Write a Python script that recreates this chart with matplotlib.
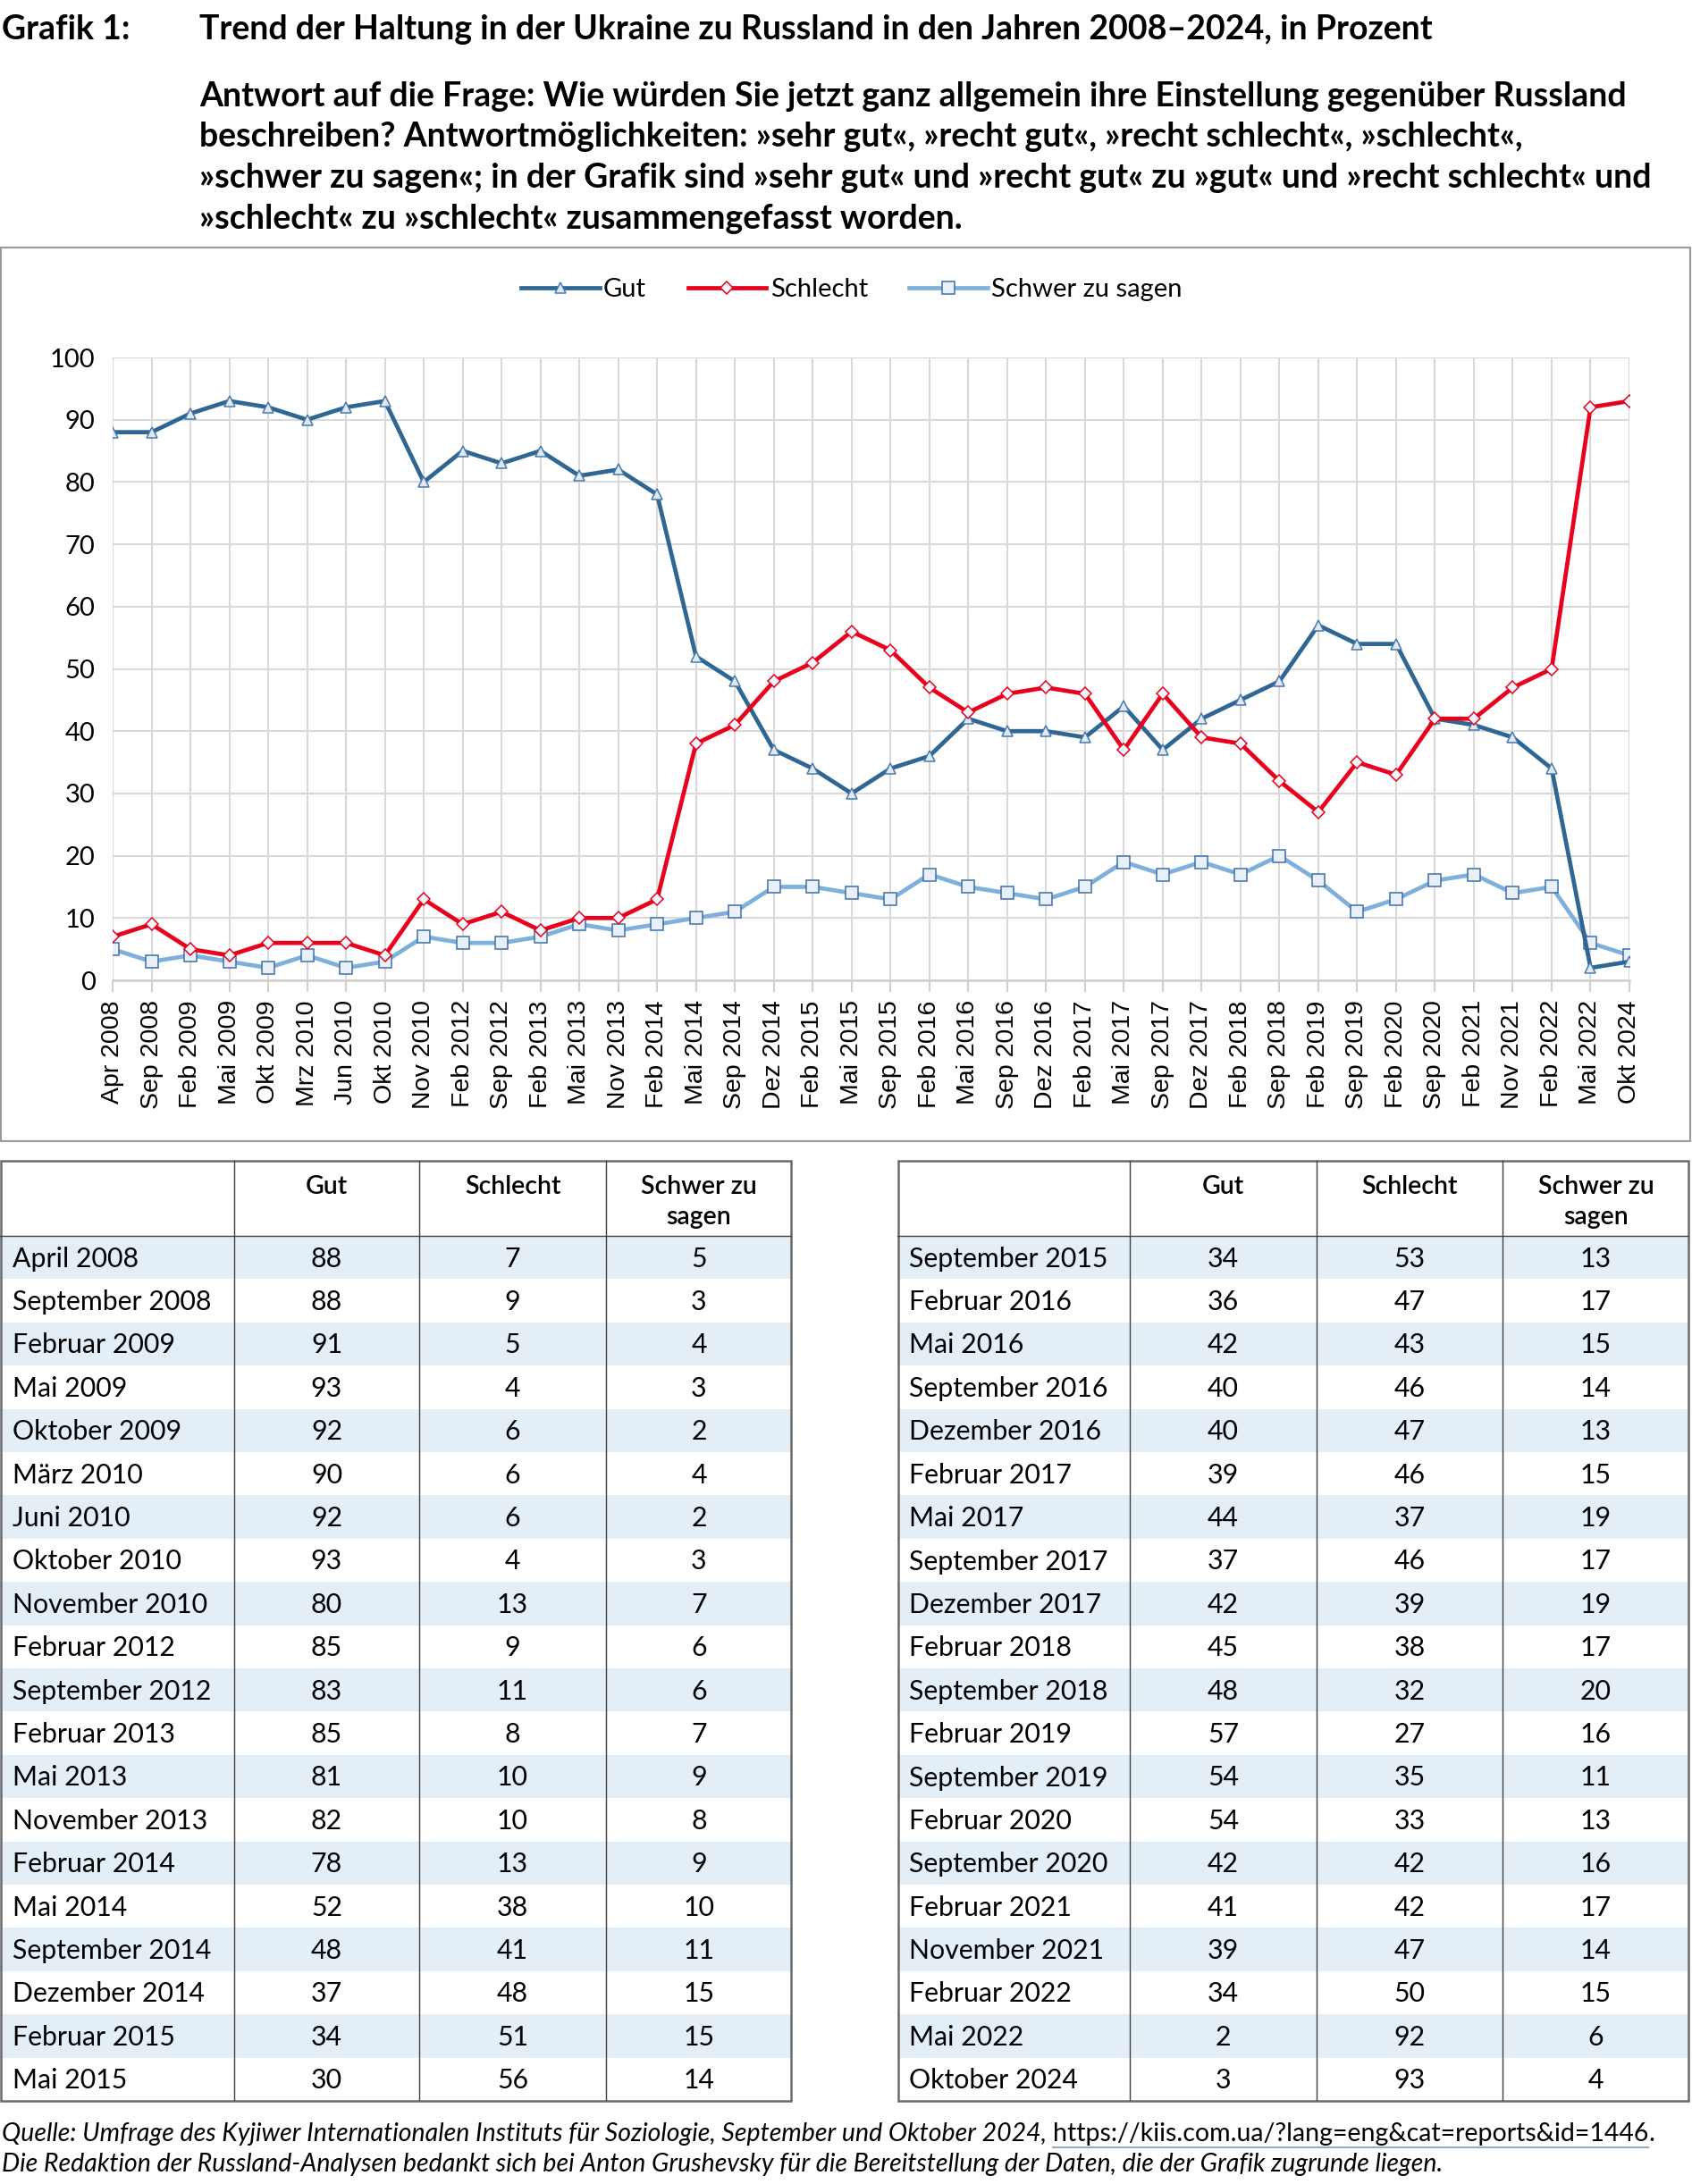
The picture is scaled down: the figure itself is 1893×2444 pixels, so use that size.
import numpy as np
import matplotlib.pyplot as plt
from matplotlib.patches import Rectangle
from matplotlib.lines import Line2D

# --- Data ---
months_short = ['Apr 2008', 'Sep 2008', 'Feb 2009', 'Mai 2009', 'Okt 2009', 'Mrz 2010',
                'Jun 2010', 'Okt 2010', 'Nov 2010', 'Feb 2012', 'Sep 2012', 'Feb 2013',
                'Mai 2013', 'Nov 2013', 'Feb 2014', 'Mai 2014', 'Sep 2014', 'Dez 2014',
                'Feb 2015', 'Mai 2015', 'Sep 2015', 'Feb 2016', 'Mai 2016', 'Sep 2016',
                'Dez 2016', 'Feb 2017', 'Mai 2017', 'Sep 2017', 'Dez 2017', 'Feb 2018',
                'Sep 2018', 'Feb 2019', 'Sep 2019', 'Feb 2020', 'Sep 2020', 'Feb 2021',
                'Nov 2021', 'Feb 2022', 'Mai 2022', 'Okt 2024']
months_long = ['April 2008', 'September 2008', 'Februar 2009', 'Mai 2009', 'Oktober 2009',
               'März 2010', 'Juni 2010', 'Oktober 2010', 'November 2010', 'Februar 2012',
               'September 2012', 'Februar 2013', 'Mai 2013', 'November 2013', 'Februar 2014',
               'Mai 2014', 'September 2014', 'Dezember 2014', 'Februar 2015', 'Mai 2015',
               'September 2015', 'Februar 2016', 'Mai 2016', 'September 2016', 'Dezember 2016',
               'Februar 2017', 'Mai 2017', 'September 2017', 'Dezember 2017', 'Februar 2018',
               'September 2018', 'Februar 2019', 'September 2019', 'Februar 2020',
               'September 2020', 'Februar 2021', 'November 2021', 'Februar 2022', 'Mai 2022',
               'Oktober 2024']
gut = [88, 88, 91, 93, 92, 90, 92, 93, 80, 85, 83, 85, 81, 82, 78, 52, 48, 37, 34, 30,
       34, 36, 42, 40, 40, 39, 44, 37, 42, 45, 48, 57, 54, 54, 42, 41, 39, 34, 2, 3]
schlecht = [7, 9, 5, 4, 6, 6, 6, 4, 13, 9, 11, 8, 10, 10, 13, 38, 41, 48, 51, 56,
            53, 47, 43, 46, 47, 46, 37, 46, 39, 38, 32, 27, 35, 33, 42, 42, 47, 50, 92, 93]
schwer = [5, 3, 4, 3, 2, 4, 2, 3, 7, 6, 6, 7, 9, 8, 9, 10, 11, 15, 15, 14,
          13, 17, 15, 14, 13, 15, 19, 17, 19, 17, 20, 16, 11, 13, 16, 17, 14, 15, 6, 4]
series_names = ['Gut', 'Schlecht', 'Schwer zu sagen']

# --- Layout helpers (pixel coords, origin top-left) ---
W, H = 1893, 2444
def fx(x):
    return x / W
def fy(y):
    return 1 - y / H

plt.rcParams['font.family'] = ['Lato', 'DejaVu Sans']

fig = plt.figure(figsize=(W / 100, H / 100), dpi=100)

# --- Header ---
fig.text(fx(2), fy(33), 'Grafik 1:', fontsize=27, fontweight='bold', va='center', ha='left')
fig.text(fx(223), fy(33), 'Trend der Haltung in der Ukraine zu Russland in den Jahren 2008–2024, in Prozent',
         fontsize=27, fontweight='bold', va='center', ha='left')
sub_lines = ['Antwort auf die Frage: Wie würden Sie jetzt ganz allgemein ihre Einstellung gegenüber Russland',
             'beschreiben? Antwortmöglichkeiten: »sehr gut«, »recht gut«, »recht schlecht«, »schlecht«,',
             '»schwer zu sagen«; in der Grafik sind »sehr gut« und »recht gut« zu »gut« und »recht schlecht« und',
             '»schlecht« zu »schlecht« zusammengefasst worden.']
for i, line in enumerate(sub_lines):
    fig.text(fx(223), fy(108 + i * 45.5), line, fontsize=27, fontweight='bold', va='center', ha='left')

# --- Chart frame ---
fig.patches.append(Rectangle((fx(1), fy(1277)), fx(1890), (1277 - 277) / H,
                             transform=fig.transFigure, fill=False, edgecolor='#9a9a9a', lw=1.5))

ax = fig.add_axes([fx(126), fy(1097), fx(1823 - 126), (1097 - 400) / H])
x = np.arange(len(months_short))
ax.plot(x, gut, color='#2f6694', lw=3.4, marker='^', ms=9, mfc='#dfe8f3', mec='#4a7aab', mew=1.1,
        label=series_names[0], zorder=4)
ax.plot(x, schlecht, color='#e8001c', lw=3.4, marker='D', ms=7.5, mfc='#f4f6fb', mec='#e8001c', mew=1.1,
        label=series_names[1], zorder=5)
ax.plot(x, schwer, color='#7fb0db', lw=3.4, marker='s', ms=9.5, mfc='#e9f0fa', mec='#3f6fa6', mew=1.1,
        label=series_names[2], zorder=3)
ax.set_xlim(0, len(months_short) - 1)
ax.set_ylim(0, 100)
ax.set_yticks(range(0, 101, 10))
ax.set_xticks(x)
ax.set_xticklabels(months_short, rotation=90, fontsize=20.5, family='Liberation Sans')
ax.tick_params(axis='y', length=0, labelsize=21, pad=14)
ax.tick_params(axis='x', length=9, width=1.5, color='#d0d0d0', pad=7)
ax.grid(True, color='#d9d9d9', lw=1.5)
ax.set_axisbelow(True)
for side in ['left', 'right', 'top']:
    ax.spines[side].set_visible(False)
ax.spines['bottom'].set_color('#d0d0d0')
ax.spines['bottom'].set_linewidth(1.8)
ax.spines['bottom'].set_zorder(2)

fig.legend(loc='center', bbox_to_anchor=(fx(953), fy(324)), ncol=3, frameon=False, fontsize=21,
           handlelength=3.0, handletextpad=0.15, columnspacing=1.6)

# --- Tables ---
row_h = 48.4
y_top, y_head, y_bot = 1299, 1383, 2351
fill = '#e3eef7'

def draw_table(edges, labels, g, s, w, label_x):
    x0, x1 = edges[0], edges[-1]
    t = fig.add_axes([fx(x0), fy(y_bot), fx(x1 - x0), (y_bot - y_top) / H])
    t.set_xlim(x0, x1)
    t.set_ylim(y_bot, y_top)
    t.axis('off')
    for i in range(len(labels)):
        yc = y_head + (i + 0.5) * row_h + 1.5
        if i % 2 == 0:
            t.add_patch(Rectangle((x0, y_head + i * row_h), x1 - x0, row_h, color=fill, lw=0))
        t.text(label_x, yc, labels[i], fontsize=21.8, ha='left', va='center')
        for j, vals in enumerate([g, s, w]):
            t.text((edges[j + 1] + edges[j + 2]) / 2, yc, str(vals[i]), fontsize=21.8,
                   ha='center', va='center')
    # header
    hy = 1328
    t.text((edges[1] + edges[2]) / 2, hy, 'Gut', fontsize=20.5, fontweight='semibold', ha='center', va='center')
    t.text((edges[2] + edges[3]) / 2, hy, 'Schlecht', fontsize=20.5, fontweight='semibold', ha='center', va='center')
    t.text((edges[3] + edges[4]) / 2, hy, 'Schwer zu', fontsize=20.5, fontweight='semibold', ha='center', va='center')
    t.text((edges[3] + edges[4]) / 2, hy + 34, 'sagen', fontsize=20.5, fontweight='semibold', ha='center', va='center')
    # lines
    for e in edges[1:-1]:
        t.plot([e, e], [y_top, y_bot], color='#404040', lw=1.0)
    t.plot([x0, x1], [y_head, y_head], color='#404040', lw=1.0)
    t.add_patch(Rectangle((x0 + 1, y_top), x1 - x0 - 2, y_bot - y_top, fill=False,
                          edgecolor='#6a6a6a', lw=1.8, clip_on=False))

n_half = len(months_long) // 2
draw_table([0, 262, 469, 678, 886], months_long[:n_half], gut[:n_half], schlecht[:n_half],
           schwer[:n_half], 14)
draw_table([1004, 1264, 1473, 1681, 1890], months_long[n_half:], gut[n_half:], schlecht[n_half:],
           schwer[n_half:], 1017)

# --- Footer ---
src_prefix = ('Quelle: Umfrage des Kyjiwer Internationalen Instituts für Soziologie, '
              'September und Oktober 2024, ')
src_url = 'https://kiis.com.ua/?lang=eng&cat=reports&id=1446'
fs_foot = 20.5
t1 = fig.text(fx(2), fy(2388), src_prefix, fontsize=fs_foot, style='italic', ha='left', va='center')
fig.canvas.draw()
r = fig.canvas.get_renderer()
bb = t1.get_window_extent(r)
t2 = fig.text(bb.x1 / W, fy(2388), src_url, fontsize=fs_foot, ha='left', va='center')
bb2 = t2.get_window_extent(r)
fig.text(bb2.x1 / W, fy(2388), '.', fontsize=fs_foot, ha='left', va='center')
fig.add_artist(Line2D([bb2.x0 / W, bb2.x1 / W], [fy(2403), fy(2403)], color='#9aaac0', lw=1.5,
                      transform=fig.transFigure))
fig.text(fx(2), fy(2422), 'Die Redaktion der Russland-Analysen bedankt sich bei Anton Grushevsky für die '
         'Bereitstellung der Daten, die der Grafik zugrunde liegen.', fontsize=fs_foot, style='italic',
         ha='left', va='center')

fig.savefig('out.png', dpi=100)
